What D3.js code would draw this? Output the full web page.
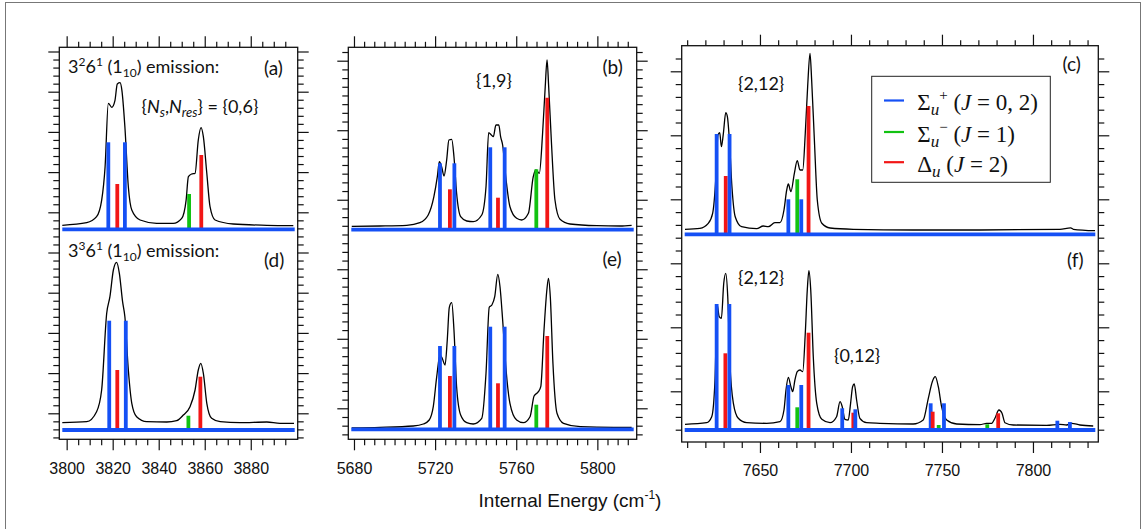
<!DOCTYPE html>
<html><head><meta charset="utf-8">
<script src="https://cdn.jsdelivr.net/npm/d3@7"></script>
<style>body{margin:0;background:#fff} svg{display:block}</style>
</head><body><svg id="c" width="1143" height="529"></svg>
<script>
// ---------- tick labels ----------
const xTickLabelsA = [3800, 3820, 3840, 3860, 3880];
const xTickLabelsB = [5680, 5720, 5760, 5800];
const xTickLabelsC = [7650, 7700, 7750, 7800];
const axisTitle = "Internal Energy (cm";

// ---------- experimental traces [energy cm-1, intensity a.u.] ----------
const traceA = [[3798.1,4],[3808.7,6.6],[3813,12.6],[3815.2,29],[3816.7,62.6],[3818.1,126],[3819.6,122],[3821,129],[3822,145.3],[3823.2,146.6],[3824,139],[3825.3,102.6],[3826.8,42.6],[3828.3,19.3],[3831.9,9.3],[3839.1,6],[3846.3,6],[3850,11],[3851.9,29],[3852.9,52.6],[3854.3,55.3],[3855.8,56],[3857.2,89.3],[3858.4,101.6],[3859.4,92.6],[3860.9,56],[3862.3,22.6],[3864.5,9.3],[3872.4,5.3],[3887,4],[3898.5,3.6]];
const traceD = [[3798.1,7.3],[3808.7,8.3],[3813,18.3],[3815.2,40],[3817.4,116.7],[3818.8,133.3],[3820.3,160],[3821.7,167.7],[3822.9,156.7],[3824.3,128.3],[3825.3,113.3],[3826.8,60],[3828.3,26.7],[3830.4,13.3],[3834.8,8.3],[3843.5,8],[3847.8,9.3],[3850.7,15],[3853.6,23.3],[3855.8,40],[3857.2,60],[3858.3,66.7],[3859.4,56.7],[3860.9,26.7],[3863,11.7],[3866.7,8.3],[3875.3,7.3],[3887,8],[3892.7,6.7],[3898.8,6.7]];
const traceB = [[5678.9,3.4],[5692.8,3.7],[5706,4.4],[5712.5,7],[5716.6,14.7],[5719.4,33],[5721.1,53],[5722.1,68],[5723.2,63],[5724.4,53.7],[5725.7,69.7],[5726.8,89.7],[5728.2,90.4],[5729.3,73],[5730.6,36.4],[5732.6,13],[5735.6,8.7],[5738.8,8],[5743,14.7],[5745.1,43],[5746.4,97],[5747.7,94.7],[5748.7,93],[5750,104.7],[5751.4,104.7],[5752.3,93],[5753.3,84.7],[5755,49.7],[5756.9,23],[5760.2,11.4],[5762.7,9.7],[5766,16.4],[5768.4,53],[5769.7,59.7],[5771.4,56.4],[5773,96.4],[5774.3,143],[5775.2,169.7],[5776,143],[5777.3,89.7],[5779.1,29.7],[5781.6,10.4],[5786.5,5.7],[5799.7,4],[5811.2,3.7],[5816.9,4.4]];
const traceE = [[5678.9,1.5],[5692.8,2],[5709.2,3.3],[5714.2,5.3],[5717.1,9.3],[5719.1,22.6],[5720.8,52.6],[5722.4,74.3],[5723.5,71],[5724.9,64.3],[5726,89.3],[5727,122],[5728.2,126.6],[5729.3,99.3],[5730.6,42.6],[5732.6,14.3],[5735.6,6.6],[5738.8,5.3],[5743,11],[5745.1,56],[5746.7,122],[5748,124.3],[5749.4,132.6],[5750.9,155],[5752,142.6],[5753.3,109.3],[5755,59.3],[5756.9,26],[5760.2,9.3],[5763.5,6.6],[5766.8,12.6],[5768.8,33.3],[5770.9,37.6],[5772.1,42.6],[5773.7,99.3],[5775.1,139.3],[5775.9,151],[5776.8,132.6],[5778.1,66],[5780.1,16],[5783.3,6],[5791.6,2.6],[5808,2],[5816.9,2]];
const traceC = [[7608.8,5],[7617,6],[7621.6,11],[7624,21],[7625.8,57.6],[7626.9,99.3],[7627.9,101.6],[7628.8,87.6],[7629.9,101],[7631.2,121.6],[7632.1,117.6],[7633.2,94.3],[7634.6,47.6],[7636.4,17.6],[7639.9,7.6],[7648.2,5.6],[7651.8,8.3],[7654.6,7.6],[7658.2,11.6],[7661,11.6],[7663.2,24.3],[7664.7,44.3],[7665.6,50.3],[7667,42.6],[7668.9,61],[7670.5,73.6],[7672,64.3],[7673.5,64.3],[7674.9,101],[7676.2,147.6],[7677.5,181],[7678.4,154.3],[7679.9,94.3],[7681.5,34.3],[7684,11],[7688.5,6.3],[7701.3,5],[7734.2,4.3],[7770.9,4.3],[7814.8,5],[7820.7,6.5],[7822.2,5],[7834.1,3.6]];
const traceF = [[7608.8,5.7],[7620.7,7.3],[7623.5,13.3],[7625.3,50],[7626.5,125],[7627.6,113.3],[7628.8,111.7],[7630.1,146.7],[7631.2,156.7],[7632.3,133.3],[7633.5,66.7],[7635.4,26.7],[7638.1,11.7],[7642.7,7.3],[7653.7,6.7],[7661,8.3],[7663.2,20],[7664.3,40],[7665.6,52.7],[7667,43.3],[7668,38.3],[7669.2,50],[7670.5,58.3],[7672,60],[7673.5,58.3],[7674.9,96.7],[7676,140],[7676.9,159.3],[7677.9,140],[7679.3,73.3],[7681.2,26.7],[7684,10.7],[7688.5,7.3],[7692.1,13.3],[7694,28.3],[7695.2,23.3],[7696.7,10.7],[7698.5,10],[7699.8,26.7],[7700.9,43.3],[7701.8,46],[7703.1,30],[7704.9,11.7],[7708.6,7.3],[7715.9,6.7],[7734.2,6],[7739.7,10],[7742.5,31.7],[7744.7,48.3],[7746.3,53.3],[7748,43.3],[7749.8,23.3],[7752.6,10],[7758.1,6],[7770.9,5.3],[7774.5,6.7],[7777.3,6.7],[7779.1,11.7],[7781.3,20],[7783,16.7],[7784.6,7.3],[7789.2,5],[7807.5,4.7],[7814.8,5.7],[7818.5,5],[7821.3,6.7],[7825.8,5],[7833.1,4]];

// ---------- calculated stick spectra [energy, intensity, symmetry] ----------
const sticksA = [[3818.1,87,"S+"],[3822,45.3,"D"],[3825.3,87,"S+"],[3853.2,35.3,"S-"],[3858.5,74.3,"D"]];
const sticksD = [[3818.5,109.3,"S+"],[3822,60,"D"],[3825.7,109.3,"S+"],[3852.9,14.3,"S-"],[3858.1,53.3,"D"]];
const sticksB = [[5722.4,66.4,"S+"],[5727.3,40.4,"D"],[5729.5,66.4,"S+"],[5747.2,82.4,"S+"],[5751,32,"D"],[5754.3,82.4,"S+"],[5769.9,60.4,"S-"],[5775.3,132,"D"]];
const sticksE = [[5722.4,83.3,"S+"],[5727.3,53.3,"D"],[5729.5,83.3,"S+"],[5747.2,102.6,"S+"],[5751,46,"D"],[5754.3,102.6,"S+"],[5769.9,24.6,"S-"],[5775.3,93.3,"D"]];
const sticksC = [[7626.2,100.3,"S+"],[7631.2,58.3,"D"],[7633.3,100.3,"S+"],[7665.6,35,"S+"],[7670.5,55,"S-"],[7672.7,35,"S+"],[7676.7,128.3,"D"]];
const sticksF = [[7626.2,126,"S+"],[7631,76.7,"D"],[7633.2,126,"S+"],[7665.6,45,"S+"],[7669.1,2,"D"],[7670.5,22.7,"S-"],[7672.7,45,"S+"],[7676.7,97.3,"D"],[7695.2,21.7,"S+"],[7701.3,17.3,"D"],[7702.4,20.7,"S+"],[7743.8,26.7,"S+"],[7744.9,18.3,"D"],[7748.2,5,"S-"],[7751.1,26.7,"S+"],[7774.9,5.7,"S-"],[7780.9,16.7,"D"],[7786.4,2,"S+"],[7793.2,2,"S+"],[7802.9,2,"D"],[7813.4,9.3,"S+"],[7820.3,8,"S+"]];

// ---------- styles ----------
const BLUE = "#1550f5", GREEN = "#12c212", RED = "#f21616";
const colorOf = {"S+": BLUE, "S-": GREEN, "D": RED};
const PANEL_FONT = "Lato, 'Open Sans', sans-serif";

const svg = d3.select("#c");
svg.append("rect").attr("x",0).attr("y",0).attr("width",1143).attr("height",529).attr("fill","#fff");
svg.append("rect").attr("x",5.5).attr("y",2.5).attr("width",1135).attr("height",540)
  .attr("fill","none").attr("stroke","#777").attr("stroke-width",1);

const columns = [
  {x0:59.3, x1:297.7, y0:47.3, y1:439.3, dom:[3796.8,3900.4], minor:5, major:20, first:3800, last:3895, labels:xTickLabelsA,
   yt:{zero:413.3, unit:8.04, lo:-3, hi:45, every:5},
   panels:[{base:229.3, trace:traceA, sticks:sticksA},{base:430, trace:traceD, sticks:sticksD}]},
  {x0:348.3, x1:636.7, y0:47.3, y1:439.3, dom:[5677.2,5819.4], minor:5, major:40, first:5680, last:5815, labels:xTickLabelsB,
   yt:{zero:408.3, unit:8.69, lo:-3, hi:41, every:8},
   panels:[{base:229.7, trace:traceB, sticks:sticksB},{base:429.3, trace:traceE, sticks:sticksE}]},
  {x0:681.7, x1:1098.3, y0:45.7, y1:442, dom:[7607,7835.9], minor:10, major:50, first:7610, last:7830, labels:xTickLabelsC,
   yt:{zero:391.3, unit:12.8, lo:-3, hi:26, every:5},
   panels:[{base:234.3, trace:traceC, sticks:sticksC},{base:430, trace:traceF, sticks:sticksF}]}
];

function styleAxis(g){
  g.select(".domain").remove();
  g.selectAll(".tick line").attr("stroke","#111").attr("stroke-width",1.2);
}

columns.forEach(col => {
  const x = d3.scaleLinear().domain(col.dom).range([col.x0, col.x1]);
  const minorVals = d3.range(col.first, col.last + 0.01, col.minor);
  const majorVals = minorVals.filter(v => Math.abs(v % col.major) < 1e-6);
  const minorOnly = minorVals.filter(v => Math.abs(v % col.major) >= 1e-6);

  col.panels.forEach(p => {
    const y = d3.scaleLinear().domain([0, 185]).range([p.base, p.base - 185]);
    const line = d3.line().x(d => x(d[0])).y(d => y(d[1])).curve(d3.curveMonotoneX);
    svg.append("path").datum(p.trace).attr("d", line)
      .attr("fill","none").attr("stroke","#000").attr("stroke-width",1.3).attr("stroke-linejoin","round");
    svg.append("g").selectAll("line").data(p.sticks).join("line")
      .attr("x1", d => x(d[0])).attr("x2", d => x(d[0]))
      .attr("y1", y(0)).attr("y2", d => y(d[1]))
      .attr("stroke", d => colorOf[d[2]]).attr("stroke-width", 3.8);
    svg.append("line").attr("x1", col.x0 + 3).attr("x2", col.x1 - 3)
      .attr("y1", y(0)).attr("y2", y(0)).attr("stroke", BLUE).attr("stroke-width", 3.8);
  });

  svg.append("rect").attr("x",col.x0).attr("y",col.y0).attr("width",col.x1-col.x0).attr("height",col.y1-col.y0)
    .attr("fill","none").attr("stroke","#111").attr("stroke-width",1.3);

  svg.append("g").attr("transform",`translate(0,${col.y1})`)
    .call(d3.axisBottom(x).tickValues(minorOnly).tickSize(6).tickFormat("")).call(styleAxis);
  svg.append("g").attr("transform",`translate(0,${col.y1})`)
    .call(d3.axisBottom(x).tickValues(majorVals).tickSize(11).tickPadding(12).tickFormat(d => col.labels.includes(d) ? d : ""))
    .call(styleAxis)
    .call(g => g.selectAll("text").attr("fill","#111").attr("font-family","'Liberation Sans', Arial, sans-serif").attr("font-size",16));
  svg.append("g").attr("transform",`translate(0,${col.y0})`)
    .call(d3.axisTop(x).tickValues(minorOnly).tickSize(5.5).tickFormat("")).call(styleAxis);
  svg.append("g").attr("transform",`translate(0,${col.y0})`)
    .call(d3.axisTop(x).tickValues(majorVals).tickSize(11).tickFormat("")).call(styleAxis);

  const yt = d3.scaleLinear().domain([0,1]).range([col.yt.zero, col.yt.zero - col.yt.unit]);
  const yv = d3.range(col.yt.lo, col.yt.hi + 1);
  const yMaj = yv.filter(v => ((v % col.yt.every) + col.yt.every) % col.yt.every === 0);
  const yMin = yv.filter(v => ((v % col.yt.every) + col.yt.every) % col.yt.every !== 0);
  [[d3.axisLeft, col.x0],[d3.axisRight, col.x1]].forEach(([ax, xp]) => {
    svg.append("g").attr("transform",`translate(${xp},0)`).call(ax(yt).tickValues(yMin).tickSize(6).tickFormat("")).call(styleAxis);
    svg.append("g").attr("transform",`translate(${xp},0)`).call(ax(yt).tickValues(yMaj).tickSize(11).tickFormat("")).call(styleAxis);
  });
});

// ---------- panel annotations ----------
function ptext(xp, yp, size){
  return svg.append("text").attr("x",xp).attr("y",yp).attr("font-family",PANEL_FONT).attr("font-size",size).attr("fill","#111");
}
function emission(xp, yp, sup1){
  const t = ptext(xp, yp, 18);
  t.append("tspan").text("3");
  t.append("tspan").attr("font-size",12).attr("dy",-7).text(sup1);
  t.append("tspan").attr("dy",7).text("6");
  t.append("tspan").attr("font-size",12).attr("dy",-7).text("1");
  t.append("tspan").attr("dy",7).text(" (1");
  t.append("tspan").attr("font-size",12).attr("dy",4).text("10");
  t.append("tspan").attr("dy",-4).text(") emission:");
}
emission(68, 72.5, "2");
emission(68, 256.7, "3");
ptext(264, 74.5, 19).text("(a)");
ptext(264, 267, 19).text("(d)");
ptext(602.5, 74, 19).text("(b)");
ptext(602.5, 266, 19).text("(e)");
ptext(1062.5, 71, 19).text("(c)");
ptext(1067, 267, 19).text("(f)");
ptext(476, 87, 18).text("{1,9}");
ptext(738, 90, 18).text("{2,12}");
ptext(738, 284, 18).text("{2,12}");
ptext(834, 362, 18).text("{0,12}");
{
  const t = ptext(141.5, 113, 18);
  t.append("tspan").text("{");
  t.append("tspan").attr("font-style","italic").text("N");
  t.append("tspan").attr("font-style","italic").attr("font-size",13).attr("dy",4).text("s");
  t.append("tspan").attr("dy",-4).text(",");
  t.append("tspan").attr("font-style","italic").text("N");
  t.append("tspan").attr("font-style","italic").attr("font-size",13).attr("dy",4).text("res");
  t.append("tspan").attr("dy",-4).text("} = {0,6}");
}

// ---------- legend ----------
const legendRows = [
  {sym:"S+", base:"Σ", sup:"+", J:"0, 2"},
  {sym:"S-", base:"Σ", sup:"−", J:"1"},
  {sym:"D",  base:"Δ", sup:"",  J:"2"}
];
svg.append("rect").attr("x",871.7).attr("y",76.3).attr("width",178.6).attr("height",106)
  .attr("fill","#fff").attr("stroke","#222").attr("stroke-width",1);
legendRows.forEach((r,i) => {
  const by = [110, 141.5, 171.7][i];
  svg.append("line").attr("x1",884).attr("x2",904).attr("y1",by-9.5).attr("y2",by-9.5)
    .attr("stroke",colorOf[r.sym]).attr("stroke-width",2.2);
  const t = svg.append("text").attr("x",917.3).attr("y",by)
    .attr("font-family","'Liberation Serif', 'Times New Roman', serif").attr("font-size",23).attr("fill","#111");
  t.append("tspan").text(r.base);
  t.append("tspan").attr("font-style","italic").attr("font-size",17).attr("dy",5).text("u");
  if (r.sup) t.append("tspan").attr("font-size",15).attr("dy",-15).text(r.sup);
  t.append("tspan").attr("dy", r.sup ? 10 : -5).text(" (");
  t.append("tspan").attr("font-style","italic").text("J");
  t.append("tspan").text(" = " + r.J + ")");
});

// ---------- axis title ----------
{
  const t = svg.append("text").attr("x",570).attr("y",507).attr("text-anchor","middle")
    .attr("font-family","'Liberation Sans', Arial, sans-serif").attr("font-size",19).attr("fill","#111");
  t.append("tspan").text(axisTitle);
  t.append("tspan").attr("font-size",12).attr("dy",-8).text("-1");
  t.append("tspan").attr("dy",8).text(")");
}
</script></body></html>
